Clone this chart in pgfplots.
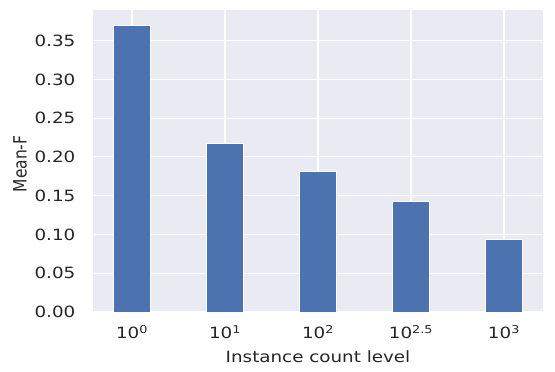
\documentclass[border=0pt]{standalone}
\usepackage{fontspec}
\setmainfont{DejaVu Sans}[FakeStretch=1.18]
\newfontfamily\ylabfont{DejaVu Sans}
\usepackage{pgfplots}
\pgfplotsset{compat=1.18}
\definecolor{sbbg}{HTML}{EAEAF2}
\definecolor{sbblue}{HTML}{4C72B0}
\definecolor{sbtext}{HTML}{262626}
\begin{document}
\begin{tikzpicture}
\begin{axis}[
  at={(0,0)}, anchor=south west,
  scale only axis, width=450bp, height=302bp,
  axis background/.style={fill=sbbg},
  axis line style={draw=none},
  xmin=-0.42, xmax=4.42, ymin=0, ymax=0.3895,
  xtick={0,1,2,3,4},
  xticklabels={10\textsuperscript{0},10\textsuperscript{1},10\textsuperscript{2},10\textsuperscript{2.5},10\textsuperscript{3}},
  ytick={0,0.05,0.1,0.15,0.2,0.25,0.3,0.35},
  /pgf/number format/assume math mode=true,
  yticklabel={\pgfmathprintnumber[fixed,fixed zerofill,precision=2]{\tick}},
  major tick length=0pt,
  grid=major,
  major grid style={draw=white, line width=1.1bp},
  tick label style={font=\fontsize{15.5bp}{18bp}\selectfont, text=sbtext},
  y tick label style={inner sep=0pt, xshift=-17.5bp},
  x tick label style={inner sep=0pt, yshift=-13bp},
  xlabel={Instance count level},
  xlabel style={font=\fontsize{15.5bp}{18bp}\selectfont, text=sbtext, at={(axis description cs:0.5,0)}, anchor=base, yshift=-50bp, inner sep=0pt},
]
\addplot[ybar, bar width=0.4, fill=sbblue, draw=white, line width=0.6bp]
  coordinates {(0,0.370) (1,0.217) (2,0.181) (3,0.143) (4,0.094)};
\end{axis}
\node[xscale=1.18, rotate=90, anchor=center, inner sep=0pt, text=sbtext, font=\ylabfont\fontsize{15.5bp}{18bp}\selectfont] at (-73bp,148bp) {Mean-F};
\pgfresetboundingbox
\path[use as bounding box] (-93bp,-60bp) rectangle (462bp,312bp);
\end{tikzpicture}
\end{document}
